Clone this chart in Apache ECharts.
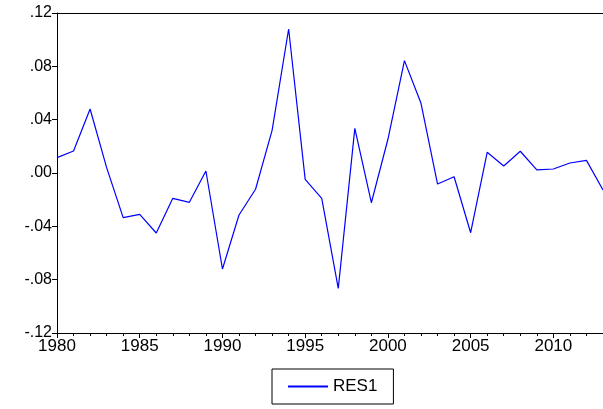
<!DOCTYPE html>
<html lang="en">
<head>
  <meta charset="UTF-8">
  <title>RES1</title>
  <script src="https://cdn.jsdelivr.net/npm/echarts@6.0.0/dist/echarts.min.js"></script>
  <style>body{margin:0;background:#fff}</style>
</head>
<body>
<div id="chart" style="width:603px;height:409px;"></div>
<script>
  var chart = echarts.init(document.getElementById('chart'));

  var years = [];
  for (var y = 1980; y <= 2013; y++) years.push(y);
  var res1 = [0.0115, 0.0165, 0.048, 0.004, -0.0335, -0.031, -0.045, -0.019, -0.022, 0.0015,
              -0.072, -0.0315, -0.0122, 0.032, 0.108, -0.0048, -0.019, -0.0865, 0.0335, -0.0223,
              0.0253, 0.0843, 0.0523, -0.0083, -0.0028, -0.0448, 0.0155, 0.0053, 0.0163, 0.0023,
              0.003, 0.0075, 0.0095, -0.0128];

  var font = 'Liberation Sans, Arial, sans-serif';

  // .12 / -.04 style labels
  function fmt(v) {
    var s = Math.abs(v).toFixed(2).replace(/^0/, '');
    return (v < -1e-9 ? '-' : '') + s;
  }

  chart.setOption({
    animation: false,
    grid: { left: 57, right: 0, top: 13, height: 320 },
    xAxis: {
      type: 'value', min: 1980, max: 2013, interval: 5,
      axisLine: { onZero: false, lineStyle: { color: '#000', width: 1 } },
      axisTick: { length: 5, lineStyle: { color: '#000' } },
      minorTick: { show: true, splitNumber: 5, length: 3, lineStyle: { color: '#000' } },
      axisLabel: { color: '#000', fontFamily: font, fontSize: 17, margin: 5, showMaxLabel: false,
                   formatter: function (v) { return String(v); } },
      splitLine: { show: false }
    },
    yAxis: {
      type: 'value', min: -0.12, max: 0.12, interval: 0.04,
      axisLine: { show: true, lineStyle: { color: '#000' } },
      axisTick: { show: true, length: 5, lineStyle: { color: '#000' } },
      axisLabel: { color: '#000', fontFamily: font, fontSize: 16, margin: 5, formatter: fmt },
      splitLine: { show: false }
    },
    graphic: [{
      type: 'line', shape: { x1: 57, y1: 13.5, x2: 603, y2: 13.5 },
      style: { stroke: '#000', lineWidth: 1 }
    }],
    legend: {
      bottom: 5, left: 272, itemWidth: 40, itemHeight: 2, itemGap: 6,
      borderColor: '#000', borderWidth: 1, padding: [9, 16], borderRadius: 0,
      icon: 'rect',
      textStyle: { color: '#000', fontFamily: font, fontSize: 17 }
    },
    series: [{
      name: 'RES1', type: 'line', showSymbol: false,
      data: years.map(function (yr, i) { return [yr, res1[i]]; }),
      lineStyle: { color: '#0000ff', width: 1.2 },
      itemStyle: { color: '#0000ff' }
    }]
  });
</script>
</body>
</html>
